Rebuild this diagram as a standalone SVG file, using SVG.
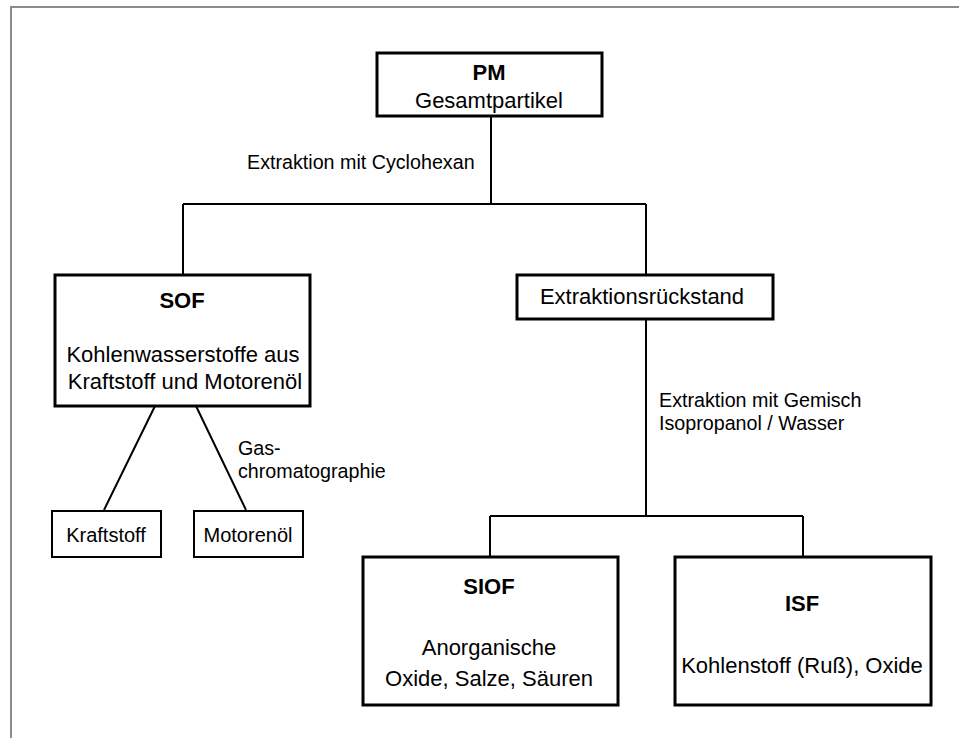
<svg xmlns="http://www.w3.org/2000/svg" width="959" height="738" viewBox="0 0 959 738">
<style>
.box{fill:#fff;stroke:#000;stroke-width:3}
.sbox{fill:#fff;stroke:#000;stroke-width:2}
.ln{fill:none;stroke:#000;stroke-width:2}
.t{font-family:"Liberation Sans",Arial,sans-serif;font-size:22px;fill:#000;text-anchor:middle}
.b{font-weight:bold}
.lb{font-family:"Liberation Sans",Arial,sans-serif;font-size:19.7px;fill:#000}
.st{font-family:"Liberation Sans",Arial,sans-serif;font-size:20px;fill:#000;text-anchor:middle}
</style>
<rect x="0" y="0" width="959" height="738" fill="#fff"/>
<g id="frame" fill="none" stroke="#8c8c8c" stroke-width="2">
<path d="M10 7 H959 M11 7 V738"/>
</g>
<g id="connectors">
<path class="ln" d="M491 116 V204 M183 204 H646 M183 204 V274 M646 204 V274"/>
<path class="ln" d="M646 319 V516 M490 516 H803 M490 516 V557 M803 516 V557"/>
<path class="ln" d="M155 406 L104 510 M196 406 L246 510"/>
<text class="lb" x="247" y="169">Extraktion mit Cyclohexan</text>
<text class="lb" x="659" y="407">Extraktion mit Gemisch</text>
<text class="lb" x="659" y="430">Isopropanol / Wasser</text>
<text class="lb" x="238" y="455">Gas-</text>
<text class="lb" x="238" y="478">chromatographie</text>
</g>
<g id="pm">
<rect class="box" x="377" y="53" width="225" height="63"/>
<text class="t b" x="489" y="80">PM</text>
<text class="t" x="489" y="108">Gesamtpartikel</text>
</g>
<g id="sof">
<rect class="box" x="55" y="275" width="255" height="131"/>
<text class="t b" x="182" y="308">SOF</text>
<text class="t" x="183" y="362">Kohlenwasserstoffe aus</text>
<text class="t" x="185" y="389">Kraftstoff und Motorenöl</text>
</g>
<g id="rueckstand">
<rect class="box" x="517" y="275" width="256" height="44"/>
<text class="t" x="642" y="304">Extraktionsrückstand</text>
</g>
<g id="kraftstoff">
<rect class="sbox" x="52" y="511" width="109" height="46"/>
<text class="st" x="106" y="542">Kraftstoff</text>
</g>
<g id="motorenoel">
<rect class="sbox" x="194" y="511" width="109" height="46"/>
<text class="st" x="248" y="542">Motorenöl</text>
</g>
<g id="siof">
<rect class="box" x="363" y="557" width="255" height="148"/>
<text class="t b" x="489" y="594">SIOF</text>
<text class="t" x="489" y="655">Anorganische</text>
<text class="t" x="489" y="686">Oxide, Salze, Säuren</text>
</g>
<g id="isf">
<rect class="box" x="675" y="557" width="256" height="148"/>
<text class="t b" x="802" y="611">ISF</text>
<text class="t" x="802" y="673">Kohlenstoff (Ruß), Oxide</text>
</g>
</svg>
